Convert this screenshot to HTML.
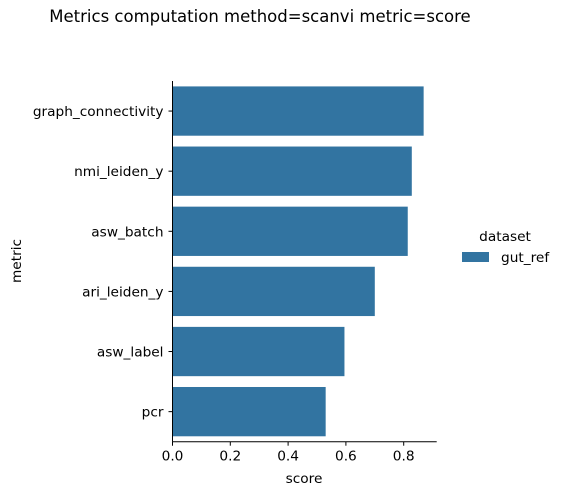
<!DOCTYPE html>
<html><head><meta charset="utf-8"><style>
body{margin:0;background:#fff;font-family:"Liberation Sans","DejaVu Sans",sans-serif;}
svg text{font-family:"DejaVu Sans","Liberation Sans",sans-serif;}
</style></head><body>
<svg id="chart" width="562" height="495" xmlns="http://www.w3.org/2000/svg">
<text x="260" y="22" font-size="16.5" text-anchor="middle" fill="#000">Metrics computation method=scanvi metric=score</text>
<g id="bars"></g><g id="axes"></g>
<text x="304" y="483" font-size="13.7" text-anchor="middle">score</text>
<text x="21" y="261" font-size="13.7" text-anchor="middle" transform="rotate(-90 21 261)">metric</text>
<g>
<text x="505" y="241" font-size="13.7" text-anchor="middle">dataset</text>
<rect x="462" y="252" width="27" height="10" fill="#3274a1"/>
<text x="501" y="262" font-size="13.7">gut_ref</text>
</g>
</svg>
<script>
const categories=["graph_connectivity","nmi_leiden_y","asw_batch","ari_leiden_y","asw_label","pcr"];
const values=[0.869,0.828,0.814,0.700,0.595,0.530];
const xTicks=[0,0.2,0.4,0.6,0.8];
const xTickLabels=["0.0","0.2","0.4","0.6","0.8"];
const NS="http://www.w3.org/2000/svg";
const X0=172.5,PXPER=289,YTOP=81,YBOT=441.7,XRIGHT=436.7;
const band=(YBOT-YTOP)/categories.length;
const xs=v=>X0+v*PXPER;
const yc=i=>YTOP+band*(i+0.5);
function mk(t,a){const e=document.createElementNS(NS,t);for(const k in a)e.setAttribute(k,a[k]);return e;}
const bars=document.getElementById('bars'),axes=document.getElementById('axes');
categories.forEach((c,i)=>{
 const r=mk('rect',{x:X0,y:yc(i)-band*0.41,width:xs(values[i])-X0,height:band*0.82,fill:'#3274a1'});
 
 
 bars.appendChild(r);
 axes.appendChild(mk('line',{x1:X0-4,x2:X0,y1:yc(i),y2:yc(i),stroke:'#000','stroke-width':1}));
 const l=mk('text',{x:X0-9,y:yc(i)+5,'font-size':13.7,'text-anchor':'end'});
 l.textContent=c;
 
 
 axes.appendChild(l);
});
xTicks.forEach((v,i)=>{
 axes.appendChild(mk('line',{x1:xs(v),x2:xs(v),y1:YBOT,y2:YBOT+4,stroke:'#000','stroke-width':1}));
 const l=mk('text',{x:xs(v),y:YBOT+19,'font-size':13.7,'text-anchor':'middle'});
 l.textContent=xTickLabels[i];
 
 
 axes.appendChild(l);
});
const ya=mk('line',{x1:X0,x2:X0,y1:YTOP,y2:YBOT,stroke:'#000','stroke-width':1});


axes.appendChild(ya);
const xa=mk('line',{x1:X0,x2:XRIGHT,y1:YBOT,y2:YBOT,stroke:'#000','stroke-width':1});


axes.appendChild(xa);
</script>
</body></html>
